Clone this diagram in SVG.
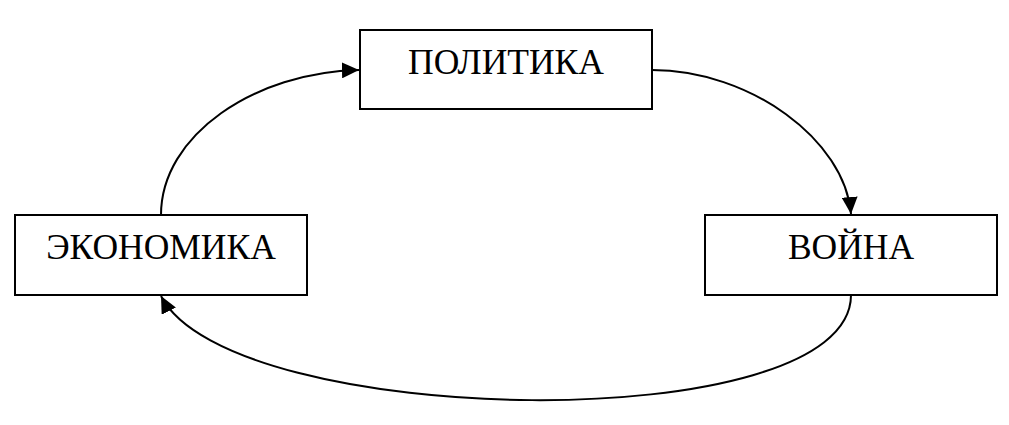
<svg xmlns="http://www.w3.org/2000/svg" width="1009" height="425" viewBox="0 0 1009 425">
<style>
.box{fill:#fff;stroke:#000;stroke-width:2}
.lbl{font-family:"Liberation Serif","Times New Roman",serif;font-size:35.5px;fill:#000;text-anchor:middle}
.edge{fill:none;stroke:#000;stroke-width:2}
</style>
<defs>
<marker id="ah" markerUnits="userSpaceOnUse" markerWidth="18" markerHeight="16" refX="17" refY="8" orient="auto">
<path d="M0,0 L17,8 L0,16 Z" fill="#000"/>
</marker>
</defs>
<rect width="1009" height="425" fill="#fff"/>
<g id="connectors">
<path class="edge" d="M161,215 C161,135 255,72 359,70" marker-end="url(#ah)"/>
<path class="edge" d="M652,70 C750,70 845,140 851,214" marker-end="url(#ah)"/>
<path class="edge" d="M851,295 C851,440 230,430 161,296" marker-end="url(#ah)"/>
</g>
<g id="politika">
<rect class="box" x="360" y="30" width="292" height="79"/>
<text class="lbl" x="506" y="74">ПОЛИТИКА</text>
</g>
<g id="ekonomika">
<rect class="box" x="15" y="215" width="292" height="80"/>
<text class="lbl" x="161" y="259">ЭКОНОМИКА</text>
</g>
<g id="voyna">
<rect class="box" x="705" y="215" width="292" height="80"/>
<text class="lbl" x="851" y="259">ВОЙНА</text>
</g>
</svg>
